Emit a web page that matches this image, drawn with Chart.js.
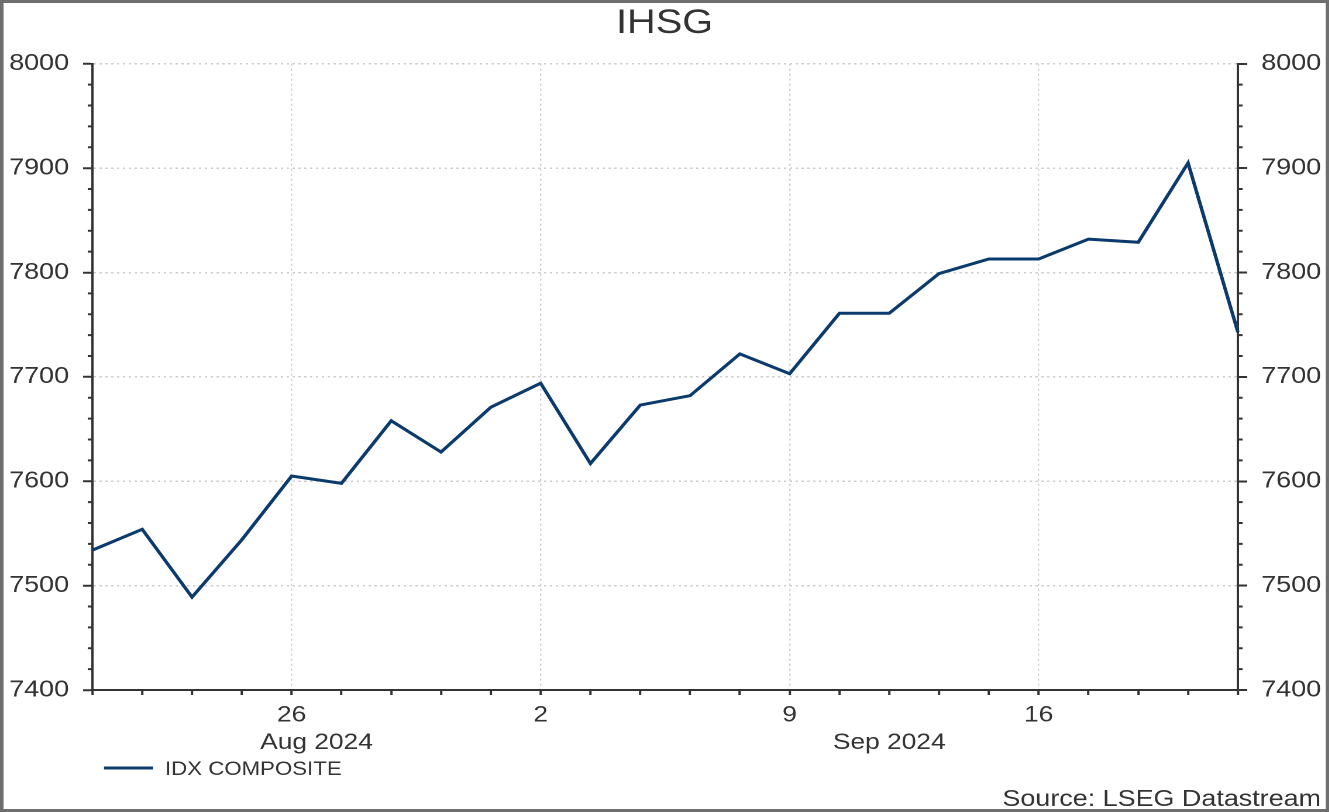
<!DOCTYPE html>
<html>
<head>
<meta charset="utf-8">
<script src="https://cdn.jsdelivr.net/npm/chart.js@4.4.1/dist/chart.umd.min.js"></script>
<style>
    html, body { margin: 0; padding: 0; background: #fff; overflow: hidden; }
    #wrap { width: 1136px; height: 812px; transform: scaleX(1.17); transform-origin: 0 0; }
</style>
</head>
<body>
<div id="wrap"><canvas id="chartIhsg" width="1136" height="812"></canvas></div>
<script>
// Trading days shown on the chart
const dates = [
    '2024-08-20', '2024-08-21', '2024-08-22', '2024-08-23',
    '2024-08-26', '2024-08-27', '2024-08-28', '2024-08-29', '2024-08-30',
    '2024-09-02', '2024-09-03', '2024-09-04', '2024-09-05', '2024-09-06',
    '2024-09-09', '2024-09-10', '2024-09-11', '2024-09-12', '2024-09-13',
    '2024-09-16', '2024-09-17', '2024-09-18', '2024-09-19', '2024-09-20'
];

// IDX COMPOSITE closes
const idxComposite = [
    7534, 7554, 7489, 7544,
    7605, 7598, 7658, 7628, 7671,
    7694, 7617, 7673, 7682, 7722,
    7703, 7761, 7761, 7799, 7813,
    7813, 7832, 7829, 7905, 7743
];

// Labelled ticks on the x axis (Mondays) and their text
const weekTicks = ['2024-08-26', '2024-09-02', '2024-09-09', '2024-09-16'];
const weekLabels = ['26', '2', '9', '16'];

// Month captions under the day labels
const monthKeys = ['2024-08', '2024-09'];
const monthLabels = ['Aug 2024', 'Sep 2024'];

// Value axis
const yMin = 7400;
const yMax = 8000;
const yStep = 100;
const yMinorStep = 20;

const K = 1.17; // horizontal stretch of the picture
const lineColor = '#0b3a6c';
const textColor = '#333333';
const gridColor = '#cdcdcd';

Chart.defaults.font.family = "'Liberation Sans', Arial, sans-serif";
Chart.defaults.color = textColor;

const extras = {
    id: 'extras',
    afterDraw(chart) {
        const ctx = chart.ctx;
        const { left, right } = chart.chartArea;
        const y = chart.scales.y;
        const x = chart.scales.x;
        ctx.save();

        // minor ticks on both value axes
        ctx.strokeStyle = '#333';
        ctx.lineWidth = 2;
        for (let v = yMin; v <= yMax; v += yMinorStep) {
            if (v % yStep === 0) continue;
            const py = y.getPixelForValue(v);
            ctx.beginPath();
            ctx.moveTo(left - 4, py); ctx.lineTo(left, py);
            ctx.moveTo(right, py); ctx.lineTo(right + 4, py);
            ctx.stroke();
        }

        // month captions
        ctx.fillStyle = textColor;
        ctx.font = "22.5px 'Liberation Sans', Arial, sans-serif";
        ctx.textAlign = 'center';
        ctx.textBaseline = 'alphabetic';
        monthKeys.forEach((m, i) => {
            const first = dates.findIndex(d => d.startsWith(m));
            const next = i + 1 < monthKeys.length ? dates.findIndex(d => d.startsWith(monthKeys[i + 1])) : dates.length - 1;
            const cx = (x.getPixelForValue(first) + x.getPixelForValue(next)) / 2;
            ctx.fillText(monthLabels[i], cx, 749);
        });

        // legend
        const ds = chart.data.datasets[0];
        ctx.strokeStyle = ds.borderColor;
        ctx.lineWidth = 3;
        ctx.beginPath();
        ctx.moveTo(104 / K, 768); ctx.lineTo(153 / K, 768);
        ctx.stroke();
        ctx.font = "19px 'Liberation Sans', Arial, sans-serif";
        ctx.textAlign = 'left';
        ctx.fillText(ds.label, 165 / K, 775);

        // source
        ctx.font = "23px 'Liberation Sans', Arial, sans-serif";
        ctx.textAlign = 'right';
        ctx.fillText('Source: LSEG Datastream', 1321 / K, 806);

        // frame
        ctx.strokeStyle = '#6e6e6e';
        ctx.lineWidth = 3;
        ctx.strokeRect(1.5, 1.5, chart.width - 3, chart.height - 3);
        ctx.restore();
    }
};

const yTicks = {
    stepSize: yStep,
    padding: 12,
    font: { size: 23 },
    color: textColor,
    callback: v => String(v)
};

new Chart(document.getElementById('chartIhsg'), {
    type: 'line',
    data: {
        labels: dates,
        datasets: [{
            label: 'IDX COMPOSITE',
            data: idxComposite,
            borderColor: lineColor,
            backgroundColor: lineColor,
            borderWidth: 3,
            pointRadius: 0,
            tension: 0
        }]
    },
    options: {
        responsive: false,
        animation: false,
        devicePixelRatio: 2,
        layout: { padding: 0 },
        plugins: {
            legend: { display: false },
            tooltip: { enabled: false },
            title: {
                display: true,
                text: 'IHSG',
                color: textColor,
                font: { size: 34, weight: 'normal' },
                padding: { top: 3, bottom: 20 }
            }
        },
        scales: {
            x: {
                type: 'category',
                offset: false,
                afterFit: s => { s.height = 122; },
                ticks: {
                    autoSkip: false,
                    maxRotation: 0,
                    padding: 7,
                    font: { size: 22.5 },
                    color: textColor,
                    callback: (v, i) => {
                        const k = weekTicks.indexOf(dates[i]);
                        return k >= 0 ? weekLabels[k] : '';
                    }
                },
                grid: {
                    color: c => weekTicks.includes(dates[c.index]) ? gridColor : 'rgba(0,0,0,0)',
                    lineWidth: 1.2,
                    tickColor: '#333',
                    tickLength: 5,
                    tickWidth: 2
                },
                border: { display: true, color: '#333', width: 2, dash: [2, 3] }
            },
            y: {
                position: 'left',
                min: yMin,
                max: yMax,
                afterFit: s => { s.width = 79; },
                ticks: yTicks,
                grid: {
                    color: gridColor,
                    lineWidth: 1.5,
                    tickColor: '#333',
                    tickLength: 8,
                    tickWidth: 2
                },
                border: { display: true, color: '#333', width: 2, dash: [2, 3] }
            },
            y2: {
                position: 'right',
                min: yMin,
                max: yMax,
                afterFit: s => { s.width = 78; },
                ticks: yTicks,
                grid: {
                    drawOnChartArea: false,
                    tickColor: '#333',
                    tickLength: 8,
                    tickWidth: 2
                },
                border: { display: true, color: '#333', width: 2 }
            }
        }
    },
    plugins: [extras]
});
</script>
</body>
</html>
